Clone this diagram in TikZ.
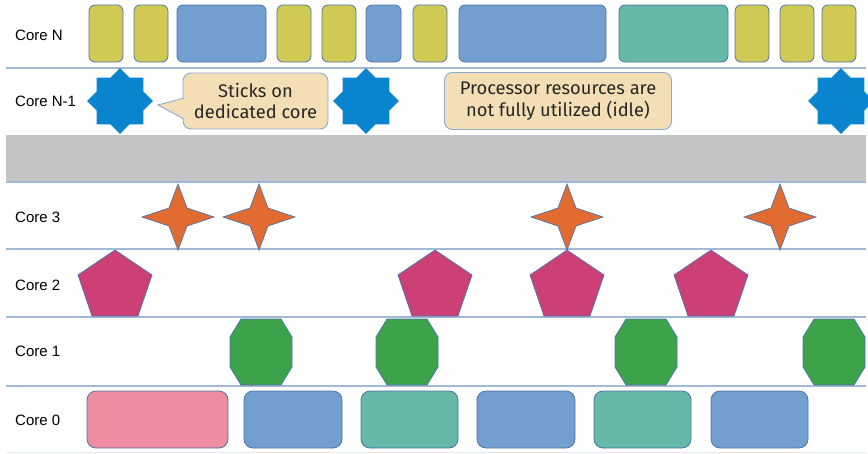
\documentclass[tikz,border=0pt]{standalone}
\usepackage{fontspec}
\setmainfont{Liberation Sans}
\newfontfamily\callfont{Fira Sans}

\definecolor{taskyellow}{HTML}{D0CA55}
\definecolor{taskblue}{HTML}{729FCF}
\definecolor{taskteal}{HTML}{66B8A8}
\definecolor{taskpink}{HTML}{EE8DA0}
\definecolor{starblue}{HTML}{0A84CF}
\definecolor{starorange}{HTML}{E26B32}
\definecolor{pentmagenta}{HTML}{CC3F77}
\definecolor{octgreen}{HTML}{3CA34A}
\definecolor{notewheat}{HTML}{F4DEB5}
\definecolor{noteedge}{HTML}{8FAAD0}
\definecolor{laneline}{HTML}{A3B8D6}
\definecolor{shapeedge}{HTML}{4E73A8}
\definecolor{bandgray}{HTML}{C4C4C4}

\begin{document}
\begin{tikzpicture}[x=1pt,y=-1pt,
  lane/.style={draw=laneline, line width=1.4pt},
  corelabel/.style={anchor=west, inner sep=0pt, font=\fontsize{15}{17}\selectfont},
  task/.style={draw=shapeedge, line width=0.8pt, rounded corners=6pt, inner sep=0pt, outer sep=0pt},
  bigtask/.style={task, rounded corners=9pt},
  glyph/.style={draw=shapeedge, line width=0.7pt, line join=miter},
  note/.style={draw=noteedge, line width=0.9pt, fill=notewheat, rounded corners=8pt,
    inner sep=0pt, align=center, text=black!85, font=\callfont\fontsize{18.3}{21.5}\selectfont}]

\useasboundingbox (0,0) rectangle (868,453);

% lane separators and the elided band
\fill[bandgray] (6,135) rectangle (866,182);
\draw[lane] (6,68) -- (866,68);
\draw[lane] (6,182) -- (866,182);
\draw[lane] (6,249) -- (866,249);
\draw[lane] (6,317) -- (866,317);
\draw[lane] (6,386) -- (866,386);
\draw[draw=laneline!30, line width=1pt] (6,452) -- (866,452);

% lane labels
\node[corelabel] (lN)  at (15,35)  {Core N};
\node[corelabel] (lN1) at (15,101) {Core N-1};
\node[corelabel] (l3)  at (15,217) {Core 3};
\node[corelabel] (l2)  at (15,285) {Core 2};
\node[corelabel] (l1)  at (15,351) {Core 1};
\node[corelabel] (l0)  at (15,420) {Core 0};

% Core N: short tasks
\foreach \xa/\xb/\c [count=\i] in {89/123/taskyellow, 134/168/taskyellow, 177/266/taskblue,
    277/311/taskyellow, 322/356/taskyellow, 366/401/taskblue, 413/447/taskyellow,
    459/606/taskblue, 619/728/taskteal, 735/769/taskyellow, 780/814/taskyellow,
    822/856/taskyellow}
  \node[task, fill=\c, minimum width=\xb-\xa, minimum height=57]
    (tN\i) at ({(\xa+\xb)/2},33.5) {};

% Core N-1: pinned tasks (eight-point stars)
\foreach \cx [count=\i] in {120,366,841}
  \draw[fill=starblue, draw=none] (\cx,101) ++(0:33)
    \foreach \k in {1,...,16} { -- ++(0,0) -- ({\cx+(mod(\k,2)==1 ? 25.2 : 33)*cos(\k*22.5)},{101-(mod(\k,2)==1 ? 25.2 : 33)*sin(\k*22.5)}) } -- cycle;

% notes
\node[note, minimum width=145, minimum height=56] (stick) at (255.5,101) {Sticks on\\dedicated core};
\fill[notewheat] (158,105) -- (184.5,98) -- (184.5,119) -- cycle;
\draw[noteedge, line width=0.9pt] (184,98) -- (158,105) -- (184,119);

\node[note, minimum width=227, minimum height=57] (idle) at (558,101)
  {Processor resources are\\not fully utilized (idle)};

% Core 3: four-point stars
\foreach \cx [count=\i] in {178,259,567,780}
  \draw[glyph, fill=starorange] (\cx,184) -- (\cx+9,208) -- (\cx+36,217) -- (\cx+9,226)
    -- (\cx,250) -- (\cx-9,226) -- (\cx-36,217) -- (\cx-9,208) -- cycle;

% Core 2: pentagons
\foreach \cx [count=\i] in {115,435,567,711}
  \draw[glyph, fill=pentmagenta] (\cx,250) -- (\cx+37,275) -- (\cx+23,316)
    -- (\cx-23,316) -- (\cx-37,275) -- cycle;

% Core 1: octagons
\foreach \cx [count=\i] in {261,407,646,834}
  \draw[glyph, fill=octgreen] (\cx-20,319) -- (\cx+20,319) -- (\cx+31,337) -- (\cx+31,367)
    -- (\cx+20,385) -- (\cx-20,385) -- (\cx-31,367) -- (\cx-31,337) -- cycle;

% Core 0: long tasks
\foreach \xa/\xb/\c [count=\i] in {87/228/taskpink, 244/342/taskblue, 361/458/taskteal,
    477/575/taskblue, 594/691/taskteal, 711/808/taskblue}
  \node[bigtask, fill=\c, minimum width=\xb-\xa, minimum height=57]
    (t0\i) at ({(\xa+\xb)/2},419.5) {};

\end{tikzpicture}
\end{document}
